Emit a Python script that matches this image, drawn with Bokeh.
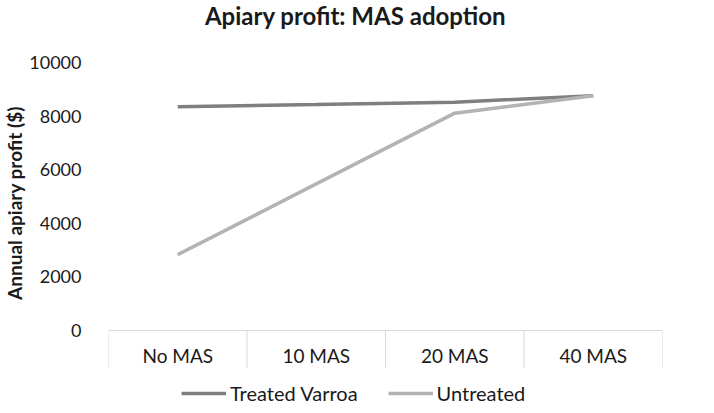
from bokeh.plotting import figure
from bokeh.models import Range1d, FixedTicker, Legend, LegendItem
from bokeh.core.properties import value
from bokeh.embed import file_html
from bokeh.resources import INLINE

title_text = "Apiary profit: MAS adoption"
y_label = "Annual apiary profit ($)"
categories = ["No MAS", "10 MAS", "20 MAS", "40 MAS"]
treated_varroa = [8350, 8430, 8520, 8760]
untreated = [2830, 5470, 8110, 8760]
y_ticks = [0, 2000, 4000, 6000, 8000, 10000]

FONT = "Lato"
TEXT = "#1a1a1a"
AXIS_GRAY = "#d9d9d9"
Y_LOW, Y_HIGH = -2799, 12313   # frame spans the whole height: room for title, labels, legend
DIVIDER_END = -1418            # category dividers drop 38px below zero

x_pos = [i + 0.5 for i in range(len(categories))]
bounds = list(range(len(categories) + 1))

p = figure(width=698, height=405, output_backend="svg", toolbar_location=None,
           x_range=Range1d(0, len(categories)), y_range=Range1d(Y_LOW, Y_HIGH),
           min_border_left=97, min_border_right=36, min_border_top=0, min_border_bottom=0)
p.outline_line_color = None
p.xgrid.visible = False
p.ygrid.visible = False
p.xaxis.visible = False
p.background_fill_color = "white"
p.border_fill_color = "white"

# title
p.text(x=[len(categories) / 2], y=[y_ticks[-1]], text=[title_text], x_offset=-30, y_offset=-47,
       text_align="center", text_baseline="middle", text_font=value(FONT),
       text_font_size="24px", text_font_style="bold", text_color=TEXT)

# category axis
p.segment(x0=[0], y0=[0], x1=[len(categories)], y1=[0], line_color=AXIS_GRAY, line_width=1)
p.segment(x0=bounds, y0=[0] * len(bounds), x1=bounds, y1=[DIVIDER_END] * len(bounds),
          line_color=AXIS_GRAY, line_width=1)
p.text(x=x_pos, y=[0] * len(x_pos), text=categories, y_offset=25,
       text_align="center", text_baseline="middle", text_font=value(FONT),
       text_font_size="19px", text_color=TEXT)

r1 = p.line(x_pos, treated_varroa, line_color="#7f7f7f", line_width=3.5)
r2 = p.line(x_pos, untreated, line_color="#b3b3b3", line_width=3.5)

ya = p.yaxis[0]
ya.ticker = FixedTicker(ticks=y_ticks, minor_ticks=[])
ya.axis_line_color = None
ya.major_tick_line_color = None
ya.minor_tick_line_color = None
ya.major_label_text_font = FONT
ya.major_label_text_font_size = "18px"
ya.major_label_text_color = TEXT
ya.major_label_standoff = 21
ya.axis_label = y_label
ya.axis_label_text_font = FONT
ya.axis_label_text_font_size = "19px"
ya.axis_label_text_font_style = "bold"
ya.axis_label_text_color = TEXT
ya.axis_label_standoff = 0

legend = Legend(items=[LegendItem(label="Treated Varroa", renderers=[r1]),
                       LegendItem(label="Untreated", renderers=[r2])],
                orientation="horizontal", location=(73, 0),
                border_line_color=None, background_fill_alpha=0,
                label_text_font=FONT, label_text_font_size="20px", label_text_color=TEXT,
                glyph_width=45, glyph_height=20, label_standoff=4, spacing=30,
                padding=0, margin=0)
p.add_layout(legend, "center")

open("out.html", "w").write(file_html(p, INLINE))
